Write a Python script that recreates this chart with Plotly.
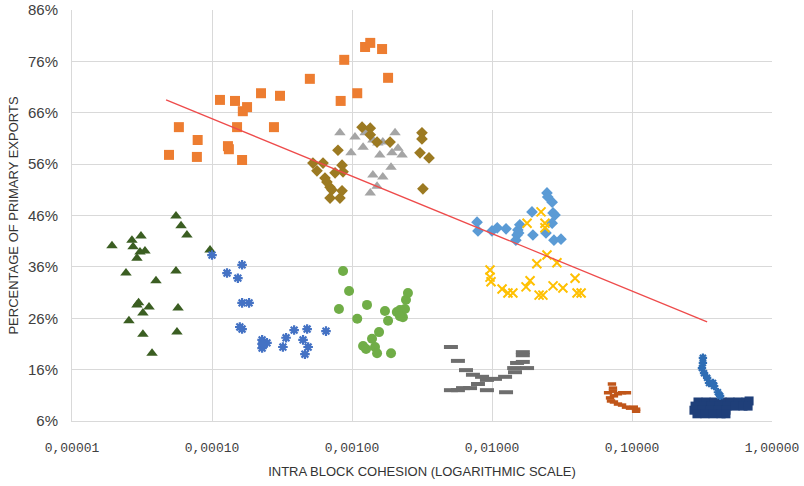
import plotly.graph_objects as go

# ---- data ----
orange_x = [4.93e-5, 5.8e-5, 7.8e-5, 7.9e-5, 1.14e-4, 1.30e-4, 1.32e-4, 1.46e-4, 1.51e-4, 1.64e-4, 1.66e-4, 1.78e-4,
            2.24e-4, 2.77e-4, 3.06e-4, 5.0e-4, 8.3e-4, 8.8e-4, 1.09e-3, 1.24e-3, 1.35e-3, 1.64e-3, 1.81e-3]
orange_y = [57.8, 63.2, 57.4, 60.7, 68.5, 59.5, 58.9, 68.3, 63.2, 56.8, 66.3, 67.1,
            69.8, 63.2, 69.3, 72.6, 68.3, 76.3, 69.8, 78.8, 79.6, 78.4, 72.8]

olive_x = [5.26e-4, 5.62e-4, 6.21e-4, 6.41e-4, 6.62e-4, 6.97e-4, 7.19e-4, 6.97e-4, 8.2e-4, 8.49e-4, 7.57e-4, 8.49e-4,
           8.63e-4, 7.94e-4, 1.18e-3, 1.35e-3, 1.35e-3, 1.51e-3, 1.87e-3, 3.16e-3, 3.16e-3, 3.06e-3, 3.55e-3, 3.21e-3]
olive_y = [56.2, 54.7, 56.2, 53.3, 52.5, 51.5, 51.0, 49.4, 49.4, 50.8, 54.3, 55.8,
           54.5, 58.7, 63.2, 63.0, 61.7, 60.3, 60.3, 62.1, 60.9, 58.2, 57.2, 51.2]

gray_tri_x = [8.20e-4, 1.05e-3, 9.84e-4, 1.20e-3, 1.24e-3, 1.41e-3, 1.53e-3, 1.66e-3, 1.58e-3, 2.03e-3, 1.93e-3,
              2.13e-3, 2.28e-3, 1.90e-3, 1.41e-3, 1.66e-3, 1.51e-3, 1.35e-3]
gray_tri_y = [62.1, 61.3, 58.2, 59.3, 62.1, 60.7, 60.1, 60.3, 57.8, 62.1, 58.2,
              59.1, 57.8, 55.4, 53.9, 53.5, 51.7, 50.4]

green_tri_x = [5.53e-5, 6.01e-5, 6.62e-5, 1.93e-5, 2.68e-5, 3.11e-5, 2.73e-5, 3.06e-5, 3.32e-5, 2.91e-5, 2.43e-5, 3.98e-5,
               5.53e-5, 9.68e-5, 2.91e-5, 3.21e-5, 3.55e-5, 5.72e-5, 2.55e-5, 3.21e-5, 5.62e-5, 3.73e-5, 2.99e-5]
green_tri_y = [45.9, 44.0, 42.2, 40.1, 41.2, 42.0, 39.9, 38.9, 39.1, 37.7, 34.8, 33.3,
               35.2, 39.3, 28.6, 27.0, 28.2, 28.0, 25.5, 22.9, 23.3, 19.2, 29.0]

blue_star_x = [1.0e-4, 1.28e-4, 1.53e-4, 1.64e-4, 1.64e-4, 1.84e-4, 1.58e-4, 1.64e-4, 2.28e-4, 2.47e-4, 2.28e-4, 3.21e-4,
               3.38e-4, 3.86e-4, 4.47e-4, 4.78e-4, 4.86e-4, 4.61e-4, 6.52e-4, 2.28e-4]
blue_star_y = [38.3, 34.8, 33.8, 36.4, 29.0, 29.0, 24.3, 23.9, 21.8, 21.2, 20.2, 20.4,
               22.2, 23.7, 21.8, 23.9, 20.4, 19.0, 23.5, 21.0]

green_dot_x = [8.63e-4, 9.53e-4, 8.07e-4, 1.09e-3, 1.28e-3, 1.72e-3, 1.81e-3, 2.09e-3, 2.20e-3, 2.31e-3, 2.39e-3,
               2.43e-3, 2.51e-3, 1.56e-3, 1.39e-3, 1.20e-3, 1.26e-3, 1.46e-3, 1.51e-3, 1.90e-3, 2.20e-3]
green_dot_y = [35.2, 31.3, 27.8, 25.9, 28.6, 27.4, 25.5, 27.2, 27.6, 26.2, 27.8,
               29.6, 30.9, 23.3, 22.0, 20.6, 20.0, 20.4, 19.2, 19.2, 26.4]

lblue_x = [7.82e-3, 7.94e-3, 1.0e-2, 1.09e-2, 1.26e-2, 1.51e-2, 1.53e-2, 1.58e-2, 1.48e-2, 1.93e-2, 1.96e-2,
           2.47e-2, 2.69e-2, 2.73e-2, 2.82e-2, 2.69e-2, 2.43e-2, 2.77e-2, 3.11e-2, 2.5e-2, 1.55e-2]
lblue_y = [44.7, 43.0, 43.0, 43.6, 43.4, 42.2, 43.2, 44.2, 41.2, 46.7, 42.2,
           50.4, 48.6, 46.5, 46.1, 44.5, 42.6, 41.2, 41.4, 49.6, 42.6]

yellow_x = [9.68e-3, 9.68e-3, 9.84e-3, 1.18e-2, 1.30e-2, 1.41e-2, 1.75e-2, 1.87e-2, 2.17e-2, 2.31e-2, 2.73e-2,
            3.21e-2, 3.92e-2, 4.05e-2, 4.33e-2, 2.09e-2, 2.47e-2, 2.91e-2, 1.78e-2, 2.24e-2, 2.39e-2, 2.39e-2]
yellow_y = [35.4, 34.0, 33.1, 31.7, 30.9, 30.9, 32.1, 33.3, 30.5, 30.5, 32.3,
            31.9, 33.8, 30.9, 30.9, 36.6, 38.3, 36.8, 44.5, 46.7, 44.5, 43.6]

dash_x = [5.09e-3, 5.71e-3, 6.52e-3, 7.31e-3, 8.49e-3, 9.20e-3, 1.05e-2, 1.24e-2, 1.46e-2, 1.44e-2, 1.51e-2,
          1.66e-2, 1.66e-2, 1.66e-2, 1.78e-2, 7.94e-3, 6.97e-3, 6.21e-3, 5.09e-3, 9.20e-3, 1.26e-2, 5.71e-3]
dash_y = [20.4, 17.7, 15.9, 15.0, 14.6, 14.0, 14.2, 14.6, 15.5, 16.3, 17.3,
          17.5, 19.4, 18.8, 16.3, 13.2, 12.4, 12.4, 12.0, 12.0, 11.6, 12.0]

brown_x = [7.19e-2, 7.31e-2, 7.31e-2, 6.75e-2, 7.43e-2, 7.94e-2, 8.49e-2, 9.20e-2, 7.08e-2, 7.43e-2, 7.94e-2,
           8.49e-2, 9.06e-2, 9.68e-2, 0.103, 0.107, 0.107, 6.97e-2]
brown_y = [13.2, 12.4, 11.8, 11.5, 10.9, 11.3, 11.5, 11.5, 9.9, 9.7, 9.3,
           9.1, 8.7, 8.5, 8.7, 8.3, 7.9, 10.5]

navy_x = [0.296, 0.338, 0.386, 0.440, 0.501, 0.571, 0.652, 0.686,
          0.282, 0.321, 0.366, 0.418, 0.477, 0.545, 0.621, 0.675,
          0.277, 0.316, 0.361, 0.411, 0.469,
          0.291, 0.332, 0.379, 0.433, 0.469]
navy_y = [9.7, 9.7, 9.7, 9.7, 9.7, 9.7, 9.7, 9.9,
          8.9, 8.9, 8.9, 8.9, 8.9, 8.9, 8.9, 8.9,
          8.1, 8.1, 8.1, 8.1, 8.1,
          7.4, 7.4, 7.4, 7.4, 7.4]

mblue_star_x = [0.321, 0.321, 0.316, 0.327, 0.344, 0.355, 0.379, 0.386, 0.411, 0.426]
mblue_star_y = [18.3, 17.3, 16.3, 15.3, 14.4, 13.4, 13.4, 12.8, 11.6, 10.9]

trend_x = [4.7e-5, 0.344]
trend_y = [68.5, 25.3]

x_tickvals = [1e-5, 1e-4, 1e-3, 1e-2, 1e-1, 1]
x_ticktext = ["0,00001", "0,00010", "0,00100", "0,01000", "0,10000", "1,00000"]
y_tickvals = [6, 16, 26, 36, 46, 56, 66, 76, 86]
y_ticktext = ["6%", "16%", "26%", "36%", "46%", "56%", "66%", "76%", "86%"]

fig = go.Figure()


def add(x, y, color, symbol, size, lw=0, lcolor=None):
    fig.add_trace(go.Scatter(
        x=x, y=y, mode="markers",
        marker=dict(color=color, symbol=symbol, size=size,
                    line=dict(width=lw, color=lcolor or color)),
        showlegend=False, hoverinfo="x+y"))


add(orange_x, orange_y, "#ED7D31", "square", 10)
add(gray_tri_x, gray_tri_y, "#A5A5A5", "triangle-up", 10)
add(olive_x, olive_y, "#9C7A22", "diamond", 9)
add(green_tri_x, green_tri_y, "#3B5E22", "triangle-up", 10)
add(blue_star_x, blue_star_y, "#4472C4", "asterisk-open", 8, 2.2)
add(green_dot_x, green_dot_y, "#70AD47", "circle", 10)
add(lblue_x, lblue_y, "#5B9BD5", "diamond", 9)
add(yellow_x, yellow_y, "#FFC000", "x-thin-open", 9, 2)
add(dash_x, dash_y, "#6E6E6E", "line-ew-open", 10, 4)
add(brown_x, brown_y, "#C0561A", "line-ew-open", 6, 3.5)
add(navy_x, navy_y, "#1F3F79", "square", 9)
add(mblue_star_x, mblue_star_y, "#2E6DB4", "asterisk-open", 7, 2.2)

fig.add_trace(go.Scatter(x=trend_x, y=trend_y, mode="lines",
                         line=dict(color="#EE4B4B", width=1.3),
                         showlegend=False, hoverinfo="skip"))

fig.update_layout(
    width=804, height=486,
    margin=dict(l=72, r=32, t=10, b=65),
    paper_bgcolor="white", plot_bgcolor="white",
    showlegend=False,
    font=dict(family="Liberation Sans Narrow, Liberation Sans, Arial, sans-serif", color="#404040"),
)
fig.update_xaxes(
    type="log", range=[-5, 0], automargin=False,
    tickvals=x_tickvals, ticktext=x_ticktext,
    tickfont=dict(family="Liberation Mono, DejaVu Sans Mono, monospace", size=13, color="#404040"),
    ticklabelstandoff=14, ticklabeloverflow="allow",
    showgrid=True, gridcolor="#D9D9D9", gridwidth=1,
    showline=True, linecolor="#D9D9D9", zeroline=False,
    ticks="", ticklen=0,
    title=dict(text="INTRA BLOCK COHESION (LOGARITHMIC SCALE)",
               font=dict(size=13, color="#333333"), standoff=12),
)
fig.update_yaxes(
    range=[6, 86], automargin=False,
    tickvals=y_tickvals, ticktext=y_ticktext,
    tickfont=dict(size=15, color="#404040"),
    ticklabelstandoff=10, ticklabeloverflow="allow",
    showgrid=True, gridcolor="#D9D9D9", gridwidth=1,
    showline=True, linecolor="#D9D9D9", zeroline=False,
    ticks="", ticklen=0,
    title=dict(text="PERCENTAGE OF PRIMARY EXPORTS",
               font=dict(size=13, color="#333333"), standoff=6),
)

fig.write_html("out.html", config={"displayModeBar": False},
               post_script="document.body.style.margin='0';")
